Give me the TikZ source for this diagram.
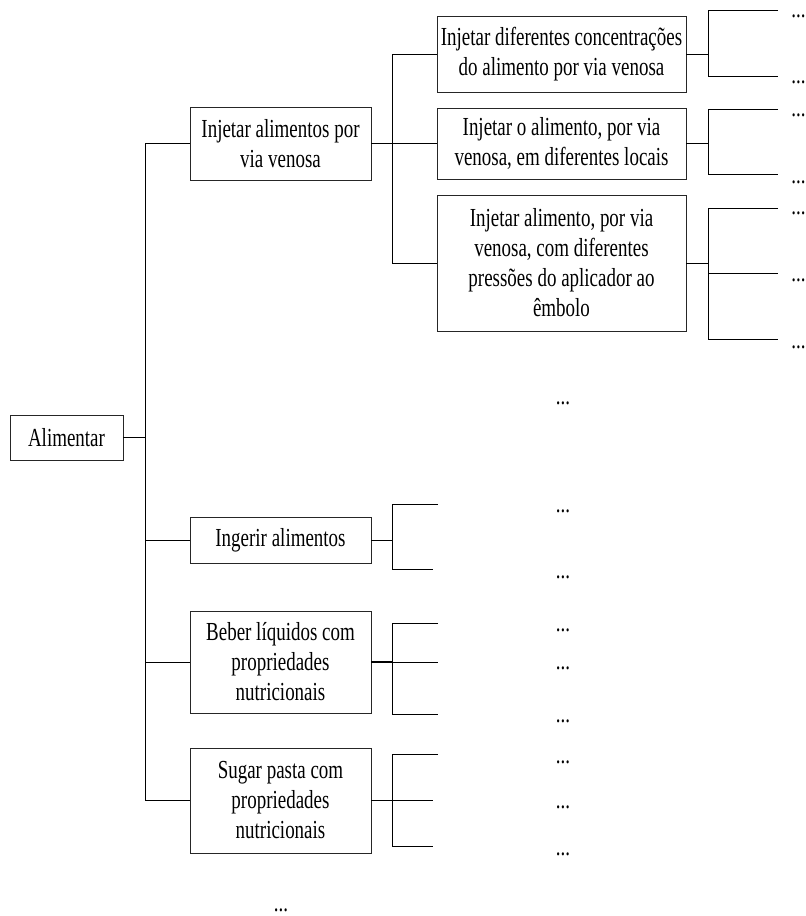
\documentclass[tikz,border=0pt]{standalone}
\usepackage{fontspec}
\setmainfont{Liberation Serif}[FakeStretch=0.73]
\begin{document}
\begin{tikzpicture}[x=1pt,y=-1pt,
  box/.style={draw=black!85,line width=0.9pt,align=center,inner sep=0pt,
    font=\fontsize{26}{30}\selectfont},
  conn/.style={line width=0.9pt,black},
  stub/.style={line width=1.5pt,black},
  dotnode/.style={inner sep=0pt,anchor=base,font=\fontsize{26}{30}\selectfont}]
\useasboundingbox (0,0) rectangle (806,916);
% boxes
\node[box,minimum width=113pt,minimum height=45pt] (alim) at (66.5,437.5) {Alimentar};
\node[box,minimum width=181pt,minimum height=73pt] (inj) at (280.5,143.5) {Injetar alimentos por\\via venosa};
\node[box,minimum width=181pt,minimum height=46pt] (ing) at (280.5,540) {Ingerir alimentos};
\node[box,minimum width=181pt,minimum height=102pt] (beb) at (280.5,662) {Beber líquidos com\\propriedades\\nutricionais};
\node[box,minimum width=181pt,minimum height=105pt] (sug) at (280.5,800.5) {Sugar pasta com\\propriedades\\nutricionais};
\node[box,minimum width=249pt,minimum height=76pt] (ba) at (561.5,54) {Injetar diferentes concentrações\\do alimento por via venosa};
\node[box,minimum width=249pt,minimum height=71pt] (bb) at (561.5,143.5) {Injetar o alimento, por via\\venosa, em diferentes locais};
\node[box,minimum width=249pt,minimum height=136pt] (bc) at (561.5,263) {Injetar alimento, por via\\venosa, com diferentes\\pressões do aplicador ao\\êmbolo};
% trunk
\coordinate (tx) at (145,0);
\draw[stub] (alim.east) -- (alim.east -| tx);
\draw[conn] (inj.west -| tx) -- (sug.west -| tx);
\foreach \n in {inj,ing,beb,sug} \draw[conn] (\n.west -| tx) -- (\n.west);
% level 1 -> level 2
\coordinate (vx) at (392,0);
\draw[stub] (inj.east) -- (inj.east -| vx);
\draw[conn] (ba.west -| vx) -- (bc.west -| vx);
\foreach \n in {ba,bb,bc} \draw[conn] (\n.west -| vx) -- (\n.west);
% level 2 leaves
\coordinate (wx) at (708,0);
\coordinate (ex) at (778,0);
\coordinate (a1) at (708,10); \coordinate (a2) at (708,76);
\coordinate (b1) at (708,109); \coordinate (b2) at (708,174);
\coordinate (c1) at (708,208); \coordinate (c2) at (708,273); \coordinate (c3) at (708,339);
\draw[conn] (ba.east) -- (ba.east -| wx);
\draw[conn] (bb.east) -- (bb.east -| wx);
\draw[conn] (bc.east) -- (bc.east -| wx);
\draw[conn] (ex |- a1) -- (a1) -- (a2) -- (ex |- a2);
\draw[conn] (ex |- b1) -- (b1) -- (b2) -- (ex |- b2);
\draw[conn] (ex |- c1) -- (c1) -- (c3) -- (ex |- c3);
\draw[conn] (c2) -- (ex |- c2);
% level 1 leaves
\coordinate (ix1) at (392,504); \coordinate (ix2) at (392,569);
\draw[conn] (ing.east) -- (ing.east -| ix1);
\draw[conn] (438,504) -- (ix1) -- (ix2) -- (433,569);
\coordinate (jx1) at (392,623); \coordinate (jx2) at (392,662); \coordinate (jx3) at (392,714);
\draw[stub] (beb.east) -- (beb.east -| jx1);
\draw[conn] (438,623) -- (jx1) -- (jx3) -- (438,714);
\draw[conn] (jx2) -- (438,662);
\coordinate (kx1) at (392,754); \coordinate (kx2) at (392,800); \coordinate (kx3) at (392,846);
\draw[conn] (sug.east) -- (sug.east -| kx1);
\draw[conn] (438,754) -- (kx1) -- (kx3) -- (433,846);
\draw[conn] (kx2) -- (433,800);
% dots
\foreach \y [count=\i] in {16,82,115,182,213,280,347}
  \node[dotnode] (dr\i) at (798.5,\y+1.5) {...};
\foreach \y [count=\i] in {511,577,630,668,721,762,807,854}
  \node[dotnode] (dl\i) at (563,\y+1.5) {...};
\node[dotnode] (dmid) at (563,404.5) {...};
\node[dotnode] (dbot) at (281,911.5) {...};
\end{tikzpicture}
\end{document}
